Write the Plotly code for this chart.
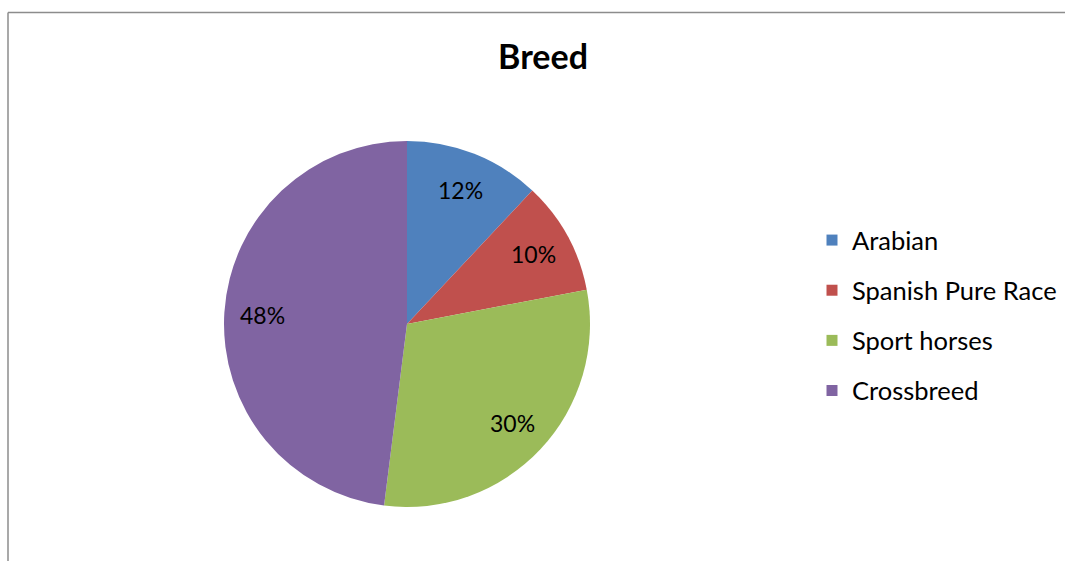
import math
import plotly.graph_objects as go

# Breed distribution
breeds = ["Arabian", "Spanish Pure Race", "Sport horses", "Crossbreed"]
shares = [12, 10, 30, 48]
colors = ["#4F81BD", "#C0504D", "#9BBB59", "#8064A2"]

W, H = 1065, 561
cx, cy, r = 407, 324, 183  # pie centre and radius in pixels (from top-left)

fig = go.Figure()

fig.add_trace(go.Pie(
    labels=breeds,
    values=shares,
    sort=False,
    direction="clockwise",
    rotation=0,
    marker=dict(colors=colors, line=dict(width=0)),
    textinfo="none",
    domain=dict(x=[(cx - r) / W, (cx + r) / W],
                y=[(H - cy - r) / H, (H - cy + r) / H]),
    showlegend=False,
    hoverinfo="label+percent",
))

# Percentage labels placed along each slice's mid-angle, near the rim
total = sum(shares)
start = 0.0
annotations = []
for v in shares:
    mid = (start + v / 2) / total * 2 * math.pi
    start += v
    d = 0.79 * r
    px = cx + d * math.sin(mid)
    py = cy - d * math.cos(mid)
    annotations.append(dict(
        x=px / W, y=1 - py / H, xref="paper", yref="paper",
        text=f"{round(100 * v / total)}%", showarrow=False,
        xanchor="center", yanchor="middle",
        font=dict(family="Lato", size=23, color="#000000"),
    ))

# Legend entries as square markers, one group each for spacing
for name, col in zip(breeds, colors):
    fig.add_trace(go.Scatter(
        x=[None], y=[None], mode="markers", name=name,
        legendgroup=name,
        marker=dict(symbol="square", size=11, color=col),
    ))

fig.update_layout(
    width=W, height=H,
    margin=dict(l=0, r=0, t=0, b=0),
    paper_bgcolor="white",
    plot_bgcolor="white",
    xaxis=dict(visible=False),
    yaxis=dict(visible=False),
    title=dict(text="<b>Breed</b>", x=543 / W, xanchor="center",
               y=1 - 57 / H, yanchor="middle",
               font=dict(family="Lato", size=34, color="#000000")),
    legend=dict(x=812 / W, xanchor="left", y=1 - 217 / H, yanchor="top",
                font=dict(family="Lato", size=25.5, color="#000000"),
                tracegroupgap=14, itemwidth=30,
                bgcolor="rgba(0,0,0,0)"),
    annotations=annotations,
    shapes=[
        dict(type="line", xref="paper", yref="paper",
             x0=8 / W, x1=1.01, y0=1 - 12.5 / H, y1=1 - 12.5 / H,
             line=dict(color="#8C8C8C", width=1.5)),
        dict(type="line", xref="paper", yref="paper",
             x0=8 / W, x1=8 / W, y0=-0.01, y1=1 - 12.5 / H,
             line=dict(color="#8C8C8C", width=1.5)),
    ],
)

fig.write_html("out.html")
